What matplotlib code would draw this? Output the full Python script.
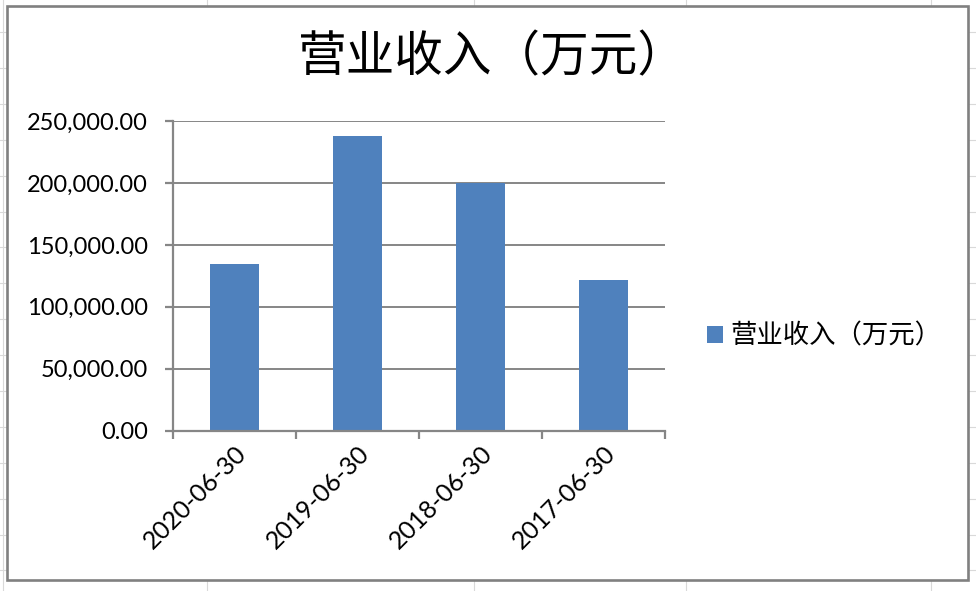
import matplotlib
matplotlib.use("Agg")
import matplotlib.pyplot as plt
from matplotlib.patches import Rectangle
from matplotlib.lines import Line2D
from matplotlib.ticker import FuncFormatter, FixedLocator

categories = ["2020-06-30", "2019-06-30", "2018-06-30", "2017-06-30"]
revenue = [134600, 237900, 200000, 121700]
series_name = "营业收入（万元）"

W, H = 976, 591
fig = plt.figure(figsize=(W / 100, H / 100), dpi=100)
fig.patch.set_facecolor("white")

def fx(px):
    return px / W

def fy(py):
    return 1 - py / H

# spreadsheet cell grid behind the chart
grid_c = "#d9d9d9"
for x in [2.5, 207, 474, 686, 931]:
    fig.add_artist(Line2D([fx(x), fx(x)], [0, 1], color=grid_c, lw=0.8,
                          transform=fig.transFigure, zorder=0))
y = 32
while y < H:
    fig.add_artist(Line2D([0, 1], [fy(y), fy(y)], color=grid_c, lw=0.8,
                          transform=fig.transFigure, zorder=0))
    y += 35.9

# chart area
fig.add_artist(Rectangle((fx(7), fy(580)), fx(968) - fx(7), fy(6) - fy(580),
                         facecolor="white", edgecolor="#808080", lw=1.9,
                         transform=fig.transFigure, zorder=1))

ax = fig.add_axes([fx(173), fy(430.7), fx(665) - fx(173), fy(121) - fy(430.7)])
ax.set_zorder(2)
ax.patch.set_alpha(0)

gray = "#868686"
x = range(len(categories))
ax.bar(x, revenue, width=0.4, color="#4F81BD", zorder=3, label=series_name)

ax.set_xlim(-0.5, len(categories) - 0.5)
ax.set_ylim(0, 250000)
ax.yaxis.set_major_locator(FixedLocator([0, 50000, 100000, 150000, 200000, 250000]))
ax.yaxis.set_major_formatter(FuncFormatter(lambda v, p: f"{v:,.2f}"))
ax.grid(axis="y", color=gray, lw=1.4, zorder=0)
ax.set_axisbelow(True)

for s in ["top", "right"]:
    ax.spines[s].set_visible(False)
for s in ["left", "bottom"]:
    ax.spines[s].set_color(gray)
    ax.spines[s].set_linewidth(1.6)
    ax.spines[s].set_zorder(4)

ax.set_xticks(list(x))
ax.set_xticklabels(categories, rotation=45, ha="right", rotation_mode="anchor",
                   fontsize=18, family="Lato")
ax.set_xticks([i - 0.5 for i in range(len(categories) + 1)], minor=True)
ax.tick_params(axis="x", which="major", length=0, pad=8)
ax.tick_params(axis="x", which="minor", length=6, width=1.6, color=gray)
ax.tick_params(axis="y", length=6, width=1.6, color=gray, pad=12)
for lab in ax.get_yticklabels():
    lab.set_family("Lato")
    lab.set_fontsize(17)

fig.text(fx(492), fy(58), series_name, ha="center", va="center", fontsize=35,
         family=["Noto Sans CJK SC", "DejaVu Sans"], zorder=5)

leg = ax.legend(loc="center left", bbox_to_anchor=(fx(683), fy(336)),
                bbox_transform=fig.transFigure, frameon=False,
                prop={"family": ["Noto Sans CJK SC", "DejaVu Sans"], "size": 19},
                handlelength=0.6, handleheight=0.6, handletextpad=0.3)

fig.savefig("out.png", dpi=100, facecolor="white")
